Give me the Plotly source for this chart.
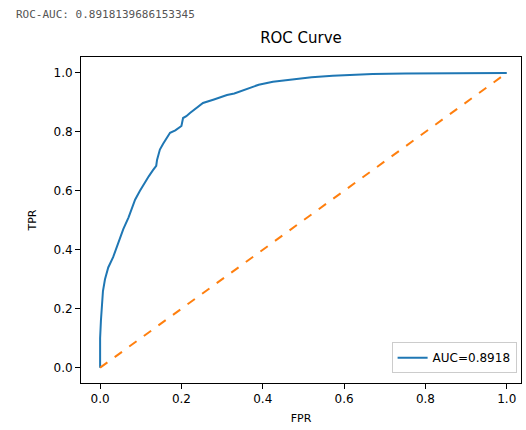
import plotly.graph_objects as go

auc_text = "ROC-AUC: 0.8918139686153345"
legend_label = "AUC=0.8918"

fpr = [0, 0, 0.002, 0.004, 0.007, 0.012, 0.02, 0.032, 0.045, 0.057, 0.07, 0.086, 0.098,
       0.11, 0.12, 0.13, 0.138, 0.14, 0.147, 0.155, 0.165, 0.172, 0.185, 0.197, 0.2,
       0.204, 0.212, 0.221, 0.235, 0.253, 0.28, 0.312, 0.33, 0.36, 0.39, 0.425, 0.47,
       0.52, 0.572, 0.62, 0.67, 0.75, 0.85, 0.93, 1.0]
tpr = [0, 0.1, 0.16, 0.21, 0.26, 0.3, 0.34, 0.375, 0.425, 0.47, 0.51, 0.57, 0.60,
       0.63, 0.65, 0.67, 0.685, 0.705, 0.74, 0.76, 0.78, 0.797, 0.805, 0.817, 0.82,
       0.847, 0.853, 0.864, 0.88, 0.898, 0.91, 0.925, 0.93, 0.945, 0.96, 0.97, 0.978,
       0.985, 0.99, 0.994, 0.996, 0.998, 0.999, 1.0, 1.0]

diag_x = [0, 1]
diag_y = [0, 1]

tick_vals = [0.0, 0.2, 0.4, 0.6, 0.8, 1.0]
tick_text = ["0.0", "0.2", "0.4", "0.6", "0.8", "1.0"]

fig = go.Figure()
fig.add_trace(go.Scatter(x=fpr, y=tpr, mode="lines", name=legend_label,
                         line=dict(color="#1f77b4", width=2)))
fig.add_trace(go.Scatter(x=diag_x, y=diag_y, mode="lines", showlegend=False,
                         line=dict(color="#ff7f0e", width=2, dash="dash")))

axis_common = dict(
    showgrid=False, zeroline=False, showline=True, linecolor="black", linewidth=1,
    mirror=True, ticks="outside", ticklen=5, tickcolor="black",
    tickvals=tick_vals, ticktext=tick_text,
    tickfont=dict(family="DejaVu Sans", size=12, color="black"),
)

fig.update_layout(
    width=526, height=430,
    margin=dict(l=81, r=5, t=57, b=47),
    paper_bgcolor="white", plot_bgcolor="white",
    font=dict(family="DejaVu Sans", color="black"),
    title=dict(text="ROC Curve", x=(81 + 521) / 2 / 526, xanchor="center",
               y=1 - 38 / 430, yanchor="middle", yref="container",
               font=dict(size=15, family="DejaVu Sans", color="black")),
    xaxis=dict(range=[-0.047, 1.035],
               title=dict(text="FPR", font=dict(size=11), standoff=8), **axis_common),
    yaxis=dict(range=[-0.052, 1.054],
               title=dict(text="TPR", font=dict(size=11), standoff=14), **axis_common),
    legend=dict(x=0.99, y=0.03, xanchor="right", yanchor="bottom",
                bordercolor="#cccccc", borderwidth=1, bgcolor="white",
                font=dict(size=12, family="DejaVu Sans")),
    annotations=[dict(text=auc_text, xref="paper", yref="paper",
                      x=(14 - 81) / 440, y=(383 - 14) / 326,
                      xanchor="left", yanchor="middle", showarrow=False,
                      font=dict(family="DejaVu Sans Mono", size=11, color="#555555"))],
)

fig.write_html("out.html", config={"displayModeBar": False},
               post_script="document.body.style.margin='0';document.body.style.overflow='hidden';")
